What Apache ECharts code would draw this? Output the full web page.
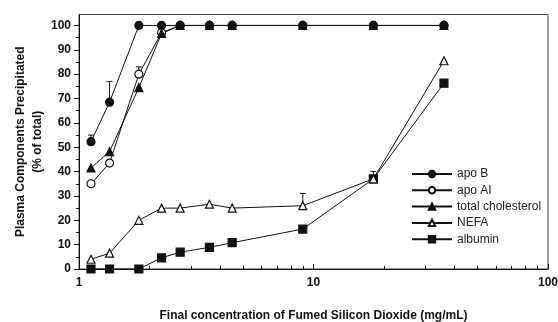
<!DOCTYPE html>
<html>
<head>
<meta charset="utf-8">
<script src="https://cdn.jsdelivr.net/npm/echarts@6/dist/echarts.min.js"></script>
<style>
  html, body { margin: 0; padding: 0; background: #ffffff; }
  #chart { width: 558px; height: 322px; }
</style>
</head>
<body>
<div id="chart"></div>
<script>
// Final concentration of fumed silicon dioxide (mg/mL)
const concentrations = [1.125, 1.35, 1.8, 2.25, 2.7, 3.6, 4.5, 9, 18, 36];
// Plasma components precipitated (% of total)
const apoB = [52.3, 68.5, 100, 100, 100, 100, 100, 100, 100, 100];
const apoAI = [35, 43.5, 80, 97, 100, 100, 100, 100, 100, 100];
const totalCholesterol = [41.5, 48.2, 74.5, 96.7, 100, 100, 100, 100, 100, 100];
const nefa = [4, 6.5, 20, 25, 25, 26.6, 25, 26, 37, 85.5];
const albumin = [0, 0, 0, 4.6, 6.9, 8.9, 10.8, 16.4, 37, 76.3];
// Error bars (upper side only): x, mean, upper
const errX = [1.125, 1.35, 1.8, 9, 18];
const errMean = [52.3, 68.5, 80, 26, 37];
const errHigh = [55, 77, 83, 31, 40];
const yTicks = [0, 10, 20, 30, 40, 50, 60, 70, 80, 90, 100];
const xTicks = [1, 10, 100];
const xMinorTicks = [2, 3, 4, 5, 6, 7, 8, 9, 20, 30, 40, 50, 60, 70, 80, 90];

const FONT = '"Liberation Sans", Arial, sans-serif';
const INK = '#111111';

function pairs(vals) { return concentrations.map((c, i) => [c, vals[i]]); }

function lineSeries(name, vals, symbol, filled, size) {
  return {
    name: name,
    type: 'line',
    data: pairs(vals),
    symbol: symbol,
    symbolSize: size,
    showAllSymbol: true,
    lineStyle: { color: INK, width: 1 },
    itemStyle: { color: filled ? INK : '#ffffff', borderColor: INK, borderWidth: 1.2 },
    emphasis: { disabled: true },
    z: 3
  };
}

const chart = echarts.init(document.getElementById('chart'), null, { renderer: 'canvas' });
chart.setOption({
  animation: false,
  backgroundColor: '#ffffff',
  grid: {
    left: 79, right: 10, top: 14.5, bottom: 53,
    containLabel: false,
    outerBoundsMode: 'none',
    show: true, borderColor: '#444', borderWidth: 1, backgroundColor: 'transparent'
  },
  legend: {
    orient: 'vertical',
    left: 406,
    top: 162,
    itemWidth: 40,
    itemHeight: 8,
    itemGap: 2.3,
    textStyle: { fontFamily: FONT, fontSize: 12, color: '#222', lineHeight: 14 },
    data: ['apo B', 'apo AI', 'total cholesterol', 'NEFA', 'albumin']
  },
  xAxis: [{
    type: 'log',
    logBase: 10,
    min: 1,
    max: 100,
    name: 'Final concentration of Fumed Silicon Dioxide (mg/mL)',
    nameLocation: 'middle',
    nameGap: 41,
    nameTextStyle: { fontFamily: FONT, fontSize: 12, fontWeight: 'bold', color: INK },
    axisLine: { show: true, lineStyle: { color: INK, width: 1 } },
    axisTick: { show: true, inside: true, length: 5, lineStyle: { color: INK }, customValues: xTicks },
    axisLabel: {
      fontFamily: FONT, fontSize: 12, fontWeight: 'bold', color: INK, margin: 8,
      customValues: xTicks,
      formatter: v => String(v)
    },
    splitLine: { show: false }
  }, {
    type: 'log',
    logBase: 10,
    min: 1,
    max: 100,
    position: 'bottom',
    axisLine: { show: false },
    axisTick: { show: true, inside: true, length: 3, lineStyle: { color: INK }, customValues: xMinorTicks },
    axisLabel: { show: false },
    splitLine: { show: false }
  }],
  yAxis: {
    type: 'value',
    min: 0,
    max: 104.5,
    interval: 10,
    name: 'Plasma Components Precipitated\n(% of total)',
    nameLocation: 'middle',
    nameRotate: 90,
    nameGap: 33,
    nameMoveOverlap: false,
    nameTextStyle: { fontFamily: FONT, fontSize: 12, fontWeight: 'bold', color: INK, lineHeight: 17 },
    axisLine: { show: true, lineStyle: { color: INK, width: 1 } },
    axisTick: { show: true, inside: false, length: 5, lineStyle: { color: INK }, customValues: yTicks },
    minorTick: { show: true, splitNumber: 2, length: 3, lineStyle: { color: INK } },
    axisLabel: {
      fontFamily: FONT, fontSize: 12, fontWeight: 'bold', color: INK, margin: 8,
      customValues: yTicks
    },
    splitLine: { show: false }
  },
  series: [
    {
      type: 'custom',
      name: 'errors',
      data: errX.map((x, i) => [x, errMean[i], errHigh[i]]),
      renderItem: function (params, api) {
        const p0 = api.coord([api.value(0), api.value(1)]);
        const p1 = api.coord([api.value(0), api.value(2)]);
        return {
          type: 'group',
          children: [
            { type: 'line', shape: { x1: p0[0], y1: p0[1], x2: p1[0], y2: p1[1] }, style: { stroke: INK, lineWidth: 1 } },
            { type: 'line', shape: { x1: p1[0] - 3, y1: p1[1], x2: p1[0] + 3, y2: p1[1] }, style: { stroke: INK, lineWidth: 1 } }
          ]
        };
      },
      z: 2,
      silent: true
    },
    lineSeries('albumin', albumin, 'rect', true, 8),
    lineSeries('NEFA', nefa, 'triangle', false, 8),
    lineSeries('apo AI', apoAI, 'circle', false, 8),
    lineSeries('total cholesterol', totalCholesterol, 'triangle', true, 8),
    lineSeries('apo B', apoB, 'circle', true, 8)
  ]
});
</script>
</body>
</html>
